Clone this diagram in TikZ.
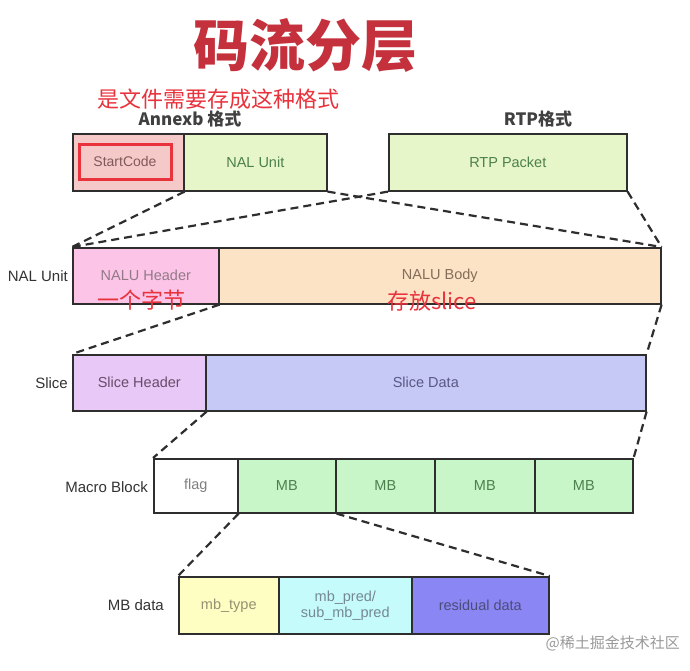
\documentclass[tikz,border=0pt]{standalone}
\usepackage{fontspec}
\setmainfont{Liberation Sans}
\newfontfamily\cjk{Noto Sans CJK SC}
\definecolor{titlered}{HTML}{C4303B}
\definecolor{annred}{HTML}{E8323C}
\definecolor{scfill}{HTML}{F6C9C9}
\definecolor{nufill}{HTML}{E7F6C9}
\definecolor{nhfill}{HTML}{FCC4E6}
\definecolor{nbfill}{HTML}{FCE3C6}
\definecolor{shfill}{HTML}{E8C8F6}
\definecolor{sdfill}{HTML}{C6C8F6}
\definecolor{mbfill}{HTML}{C9F6C9}
\definecolor{mtfill}{HTML}{FEFDC2}
\definecolor{mpfill}{HTML}{C6FBFB}
\definecolor{rdfill}{HTML}{8A87F4}
\definecolor{edge}{HTML}{2E2E2E}
\tikzset{
  cell/.style={draw=edge, line width=1.6pt, inner sep=0pt, anchor=north west,
    font=\fontsize{14.5}{16}\selectfont, align=center},
  lbl/.style={font=\fontsize{15}{17}\selectfont, text=black!80, inner sep=0pt},
  hdr/.style={font=\fontsize{17}{19}\selectfont\bfseries\cjk, text=black!75, inner sep=0pt},
  ann/.style={font=\fontsize{22}{24}\selectfont\cjk, text=annred, inner sep=0pt},
  link/.style={draw=edge, line width=2.2pt, dash pattern=on 8pt off 5pt}
}
\begin{document}
\begin{tikzpicture}[x=1pt,y=-1pt]
\useasboundingbox[fill=white] (0,0) rectangle (690,670);
% title
\node[font=\fontsize{56}{60}\selectfont\cjk\bfseries, text=titlered, inner sep=0pt] (title) at (305,45) {码流分层};
\node[font=\fontsize{22}{24}\selectfont\cjk, text=annred, inner sep=0pt] (sub) at (218,99) {是文件需要存成这种格式};
\node[hdr] (annexb) at (190,119) {Annexb 格式};
\node[hdr] (rtpfmt) at (538,119) {RTP格式};
% top row
\node[cell, fill=scfill, minimum width=111pt, minimum height=57pt] (sc) at (72,133) {};
\node[cell, fill=nufill, minimum width=143pt, minimum height=57pt, text=black!50!green!40!gray] (nu) at (183,133) {NAL Unit};
\node[draw=annred, line width=3pt, inner sep=0pt, minimum width=92pt, minimum height=35pt, text=black!50!red!30!gray, font=\fontsize{14}{16}\selectfont] (scr) at (125,161.5) {StartCode};
\node[cell, fill=nufill, minimum width=238pt, minimum height=57pt, text=black!50!green!40!gray] (rtp) at (388,133) {RTP Packet};
% NAL unit row
\node[lbl, anchor=east] (lnal) at (68,276) {NAL Unit};
\node[cell, fill=nhfill, minimum width=146pt, minimum height=56pt, text=black!45!magenta!30!gray] (nh) at (72,247) {NALU Header};
\node[cell, fill=nbfill, minimum width=442pt, minimum height=56pt, text=black!45!orange!30!gray] (nb) at (218,247) {NALU Body};
\node[ann] (onebyte) at (141,300) {一个字节};
\node[ann] (slicebody) at (432,301) {存放slice};
% slice row
\node[lbl, anchor=east] (lslice) at (68,383) {Slice};
\node[cell, fill=shfill, minimum width=133pt, minimum height=56pt, text=black!45!violet!40!gray] (sh) at (72,354) {Slice Header};
\node[cell, fill=sdfill, minimum width=440pt, minimum height=56pt, text=black!45!blue!30!gray] (sd) at (205,354) {Slice Data};
% macro block row
\node[lbl, anchor=east] (lmb) at (148,487) {Macro Block};
\node[cell, fill=white, minimum width=84pt, minimum height=54pt, text=black!50] (flag) at (153,458) {flag};
\node[cell, fill=mbfill, minimum width=98pt, minimum height=54pt, text=black!50!green!40!gray] (mb1) at (237,458) {MB};
\node[cell, fill=mbfill, minimum width=99pt, minimum height=54pt, text=black!50!green!40!gray] (mb2) at (335,458) {MB};
\node[cell, fill=mbfill, minimum width=100pt, minimum height=54pt, text=black!50!green!40!gray] (mb3) at (434,458) {MB};
\node[cell, fill=mbfill, minimum width=98pt, minimum height=54pt, text=black!50!green!40!gray] (mb4) at (534,458) {MB};
% MB data row
\node[lbl, anchor=east] (lmbd) at (164,605) {MB data};
\node[cell, fill=mtfill, minimum width=100pt, minimum height=57pt, text=black!45!yellow!40!gray] (mbt) at (178,576) {mb\_type};
\node[cell, fill=mpfill, minimum width=133pt, minimum height=57pt, text=black!45!cyan!40!gray] (mbp) at (278,576) {mb\_pred/\\sub\_mb\_pred};
\node[cell, fill=rdfill, minimum width=137pt, minimum height=57pt, text=black!55!blue!40!gray] (res) at (411,576) {residual data};
% watermark
\node[font=\fontsize{15}{17}\selectfont\cjk, text=black!40, inner sep=0pt, anchor=east] (wm) at (680,643) {@稀土掘金技术社区};
% connectors
\draw[link] (sc.south east) -- (nh.north west);
\draw[link] (nu.south east) -- (nb.north east);
\draw[link] (rtp.south west) -- (nh.north west);
\draw[link] (rtp.south east) -- (nb.north east);
\draw[link] (nh.south east) -- (sh.north west);
\draw[link] (nb.south east) -- (sd.north east);
\draw[link] (sh.south east) -- (flag.north west);
\draw[link] (sd.south east) -- (mb4.north east);
\draw[link] (flag.south east) -- (mbt.north west);
\draw[link] (mb1.south east) -- (res.north east);
\end{tikzpicture}
\end{document}
